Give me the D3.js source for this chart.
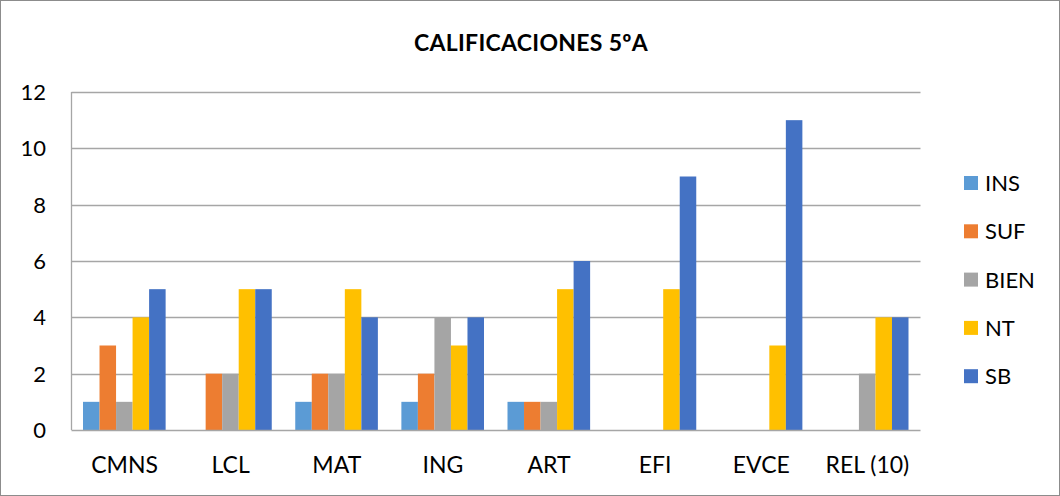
<!DOCTYPE html>
<html>
<head>
<meta charset="utf-8">
<script src="https://cdn.jsdelivr.net/npm/d3@7"></script>
<style>
  body { margin: 0; background: #fff; }
  svg text { font-family: Lato, "Open Sans", sans-serif; fill: #000; }
</style>
</head>
<body>
<div id="chart"></div>
<script>
var categories = ["CMNS", "LCL", "MAT", "ING", "ART", "EFI", "EVCE", "REL (10)"];
var seriesNames = ["INS", "SUF", "BIEN", "NT", "SB"];
var ins  = [1, 0, 1, 1, 1, 0, 0, 0];
var suf  = [3, 2, 2, 2, 1, 0, 0, 0];
var bien = [1, 2, 2, 4, 1, 0, 0, 2];
var nt   = [4, 5, 5, 3, 5, 5, 3, 4];
var sb   = [5, 5, 4, 4, 6, 9, 11, 4];
var yTicks = [0, 2, 4, 6, 8, 10, 12];

var colors = ["#5b9bd5", "#ed7d31", "#a5a5a5", "#ffc000", "#4472c4"];
var allSeries = [ins, suf, bien, nt, sb];

var width = 1060, height = 496;
var margin = {top: 92, left: 71.5, right: 139.5, bottom: 66};

var svg = d3.select("#chart").append("svg")
    .attr("width", width)
    .attr("height", height);

// outer frame
svg.append("rect")
    .attr("x", 0.5).attr("y", 0.5)
    .attr("width", width - 1).attr("height", height - 1)
    .attr("fill", "#fff")
    .attr("stroke", "#8c8c8c");

svg.append("text")
    .attr("x", 531)
    .attr("y", 51)
    .attr("text-anchor", "middle")
    .style("font-size", "23px")
    .style("font-weight", "bold")
    .style("letter-spacing", "0.3px")
    .text("CALIFICACIONES 5ºA");

var x0 = d3.scaleBand()
    .domain(categories)
    .range([margin.left, width - margin.right]);

var x1 = d3.scaleBand()
    .domain(seriesNames)
    .range([11.5, x0.bandwidth() - 12]);

var y = d3.scaleLinear()
    .domain([0, 12])
    .range([height - margin.bottom, margin.top]);

// gridlines
svg.append("g")
    .selectAll("line")
    .data(yTicks.filter(function(d){ return d > 0; }))
    .enter()
    .append("line")
    .attr("x1", margin.left)
    .attr("x2", width - margin.right)
    .attr("y1", function(d){ return Math.round(y(d)) + 0.5; })
    .attr("y2", function(d){ return Math.round(y(d)) + 0.5; })
    .attr("stroke", "#a6a6a6")
    .attr("stroke-width", 1.3);

// y tick labels
svg.append("g")
    .selectAll("text")
    .data(yTicks)
    .enter()
    .append("text")
    .attr("x", 46)
    .attr("y", function(d){ return y(d); })
    .attr("dy", "0.36em")
    .attr("text-anchor", "end")
    .style("font-size", "22px")
    .text(function(d){ return d; });

// bars
var rows = categories.map(function(c, i){
    return {cat: c, vals: allSeries.map(function(s, j){ return {name: seriesNames[j], v: s[i], c: colors[j]}; })};
});

var groups = svg.append("g")
    .selectAll("g")
    .data(rows)
    .enter()
    .append("g")
    .attr("transform", function(d){ return "translate(" + x0(d.cat) + ",0)"; });

groups.selectAll("rect")
    .data(function(d){ return d.vals.filter(function(e){ return e.v > 0; }); })
    .enter()
    .append("rect")
    .attr("x", function(d){ return x1(d.name); })
    .attr("width", x1.bandwidth())
    .attr("y", function(d){ return y(d.v); })
    .attr("height", function(d){ return y(0) - y(d.v); })
    .attr("fill", function(d){ return d.c; });

// axes lines
svg.append("line")
    .attr("x1", margin.left).attr("x2", width - margin.right)
    .attr("y1", y(0) + 0.5).attr("y2", y(0) + 0.5)
    .attr("stroke", "#a6a6a6").attr("stroke-width", 1.3);
svg.append("line")
    .attr("x1", margin.left).attr("x2", margin.left)
    .attr("y1", margin.top).attr("y2", y(0))
    .attr("stroke", "#a6a6a6").attr("stroke-width", 1.3);

// x labels
svg.append("g")
    .selectAll("text")
    .data(categories)
    .enter()
    .append("text")
    .attr("x", function(d){ return x0(d) + x0.bandwidth() / 2; })
    .attr("y", 473)
    .attr("text-anchor", "middle")
    .style("font-size", "23px")
    .text(function(d){ return d; });

// legend
var legend = svg.append("g")
    .selectAll("g")
    .data(seriesNames)
    .enter()
    .append("g")
    .attr("transform", function(d, i){ return "translate(964," + (183 + i * 48.3) + ")"; });

legend.append("rect")
    .attr("x", 0).attr("y", -7)
    .attr("width", 14).attr("height", 14)
    .attr("fill", function(d, i){ return colors[i]; });

legend.append("text")
    .attr("x", 21)
    .attr("dy", "0.36em")
    .style("font-size", "22px")
    .text(function(d){ return d; });
</script>
</body>
</html>
